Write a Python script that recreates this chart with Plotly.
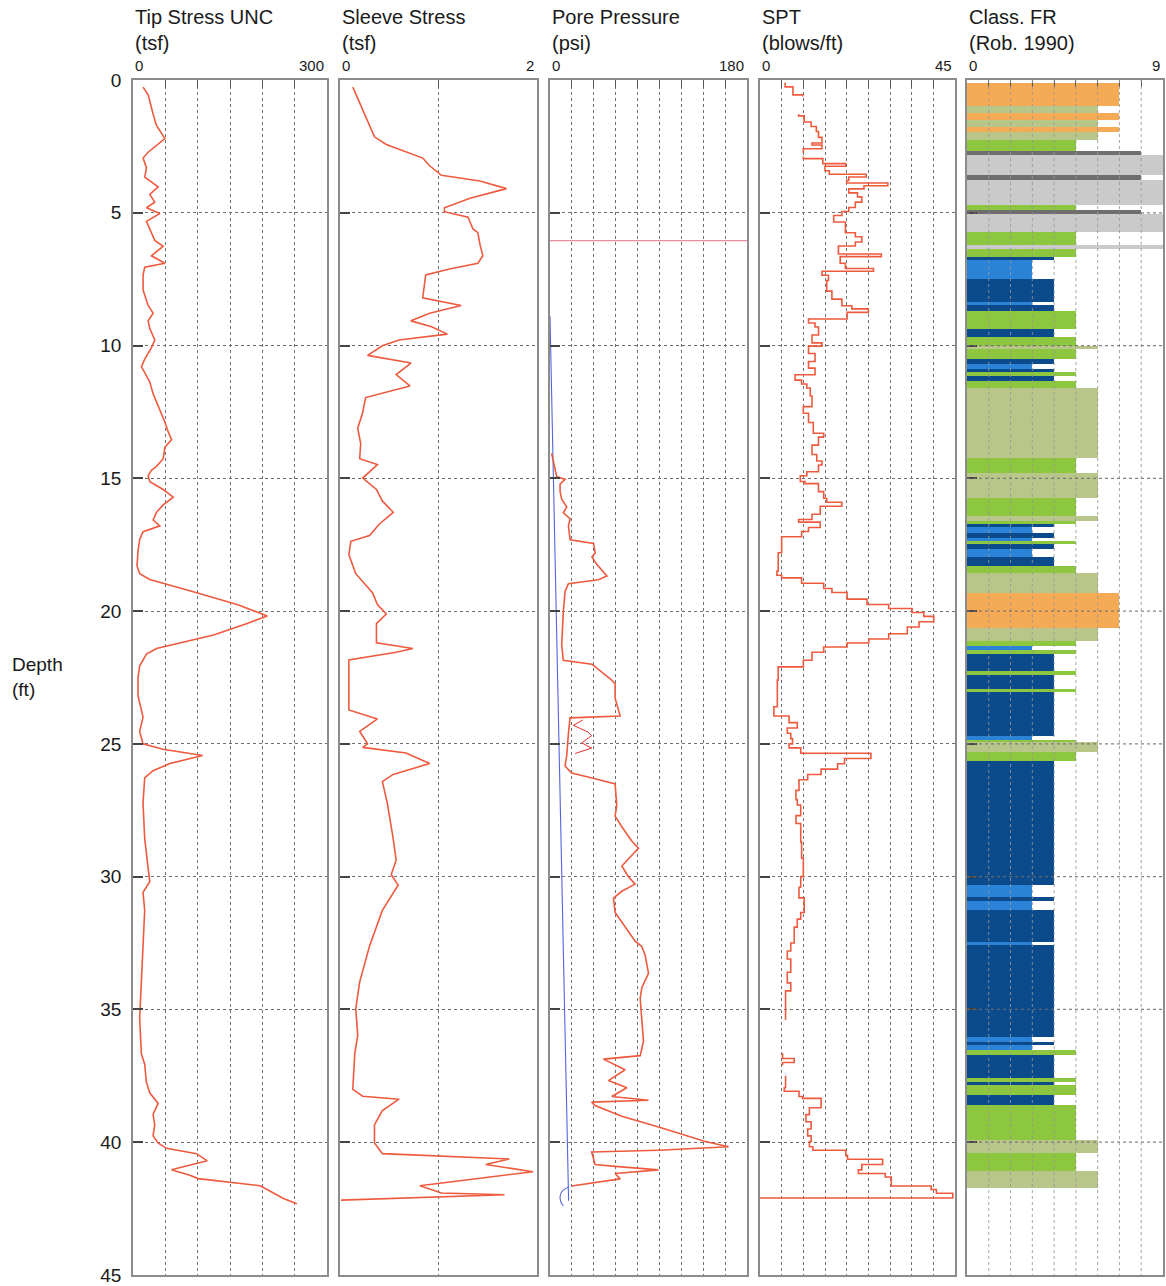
import plotly.graph_objects as go

# ---------------- data ----------------
# Tip stress (tsf) vs depth (ft)
tip_depth = [0.27,0.56,1.28,1.71,2.21,2.72,2.94,3.30,3.66,4.02,4.31,4.60,4.81,5.03,5.32,5.61,6.04,6.26,6.62,6.90,
             7.05,7.34,7.91,8.49,8.78,9.07,9.36,9.79,10.08,10.51,10.80,11.02,11.38,11.81,12.10,12.53,12.89,13.25,13.54,13.83,
             14.26,14.55,14.70,14.91,15.13,15.42,15.71,16.00,16.28,16.57,16.79,17.01,17.29,17.73,18.30,18.59,18.81,19.31,19.75,20.18,
             20.47,20.90,21.19,21.41,21.62,22.06,22.49,23.18,23.99,24.53,25.00,25.20,25.44,25.74,26.01,26.28,27.22,28.57,29.65,30.19,
             30.59,31.27,32.61,33.96,35.31,36.66,37.06,37.74,38.14,38.54,38.95,39.35,39.76,40.03,40.23,40.43,40.70,41.04,41.24,41.37,
             41.51,41.64,41.91,42.12,42.32]
tip_value = [15.6,23.4,31.1,36.3,49.3,23.4,15.6,20.8,18.2,38.9,26.0,33.7,20.8,41.5,20.8,26.0,33.7,46.7,28.5,49.3,
             18.2,15.6,15.6,23.4,31.1,23.4,26.0,33.7,28.5,18.2,13.0,18.2,26.0,31.1,36.3,44.1,49.3,54.5,59.7,49.3,
             46.7,36.3,28.5,23.4,26.0,46.7,62.3,46.7,36.3,31.1,41.5,15.6,10.4,7.8,6.2,10.4,26.0,98.6,160.9,207.6,
             176.5,124.6,72.7,36.3,20.8,10.4,7.8,7.8,15.5,10.3,15.5,46.5,107.6,56.9,31.0,18.1,15.5,18.1,23.3,25.9,
             15.5,18.1,15.5,12.9,10.3,12.9,18.1,20.7,25.9,38.8,31.0,33.6,31.0,38.8,51.7,98.3,114.8,59.5,87.9,100.9,
             150.0,196.5,217.2,232.7,253.4]

# Sleeve stress (tsf)
sleeve_depth = [0.27,0.70,1.57,2.14,2.43,2.72,2.94,3.23,3.59,3.80,4.09,4.45,4.81,4.96,5.17,5.61,5.75,6.18,6.62,6.90,
                7.12,7.34,8.20,8.49,8.78,9.07,9.29,9.57,9.79,10.01,10.37,10.66,11.09,11.52,11.96,12.53,13.11,13.69,14.26,14.48,
                14.99,15.42,15.85,16.28,16.72,17.15,17.37,17.87,18.59,19.31,19.75,20.11,20.47,21.19,21.41,21.55,21.84,23.72,24.06,24.53,
                25.00,25.13,25.34,25.74,26.15,26.42,27.22,28.57,29.38,29.92,30.32,31.27,32.61,33.96,34.97,35.98,36.66,38.01,38.27,38.38,
                38.81,39.35,40.03,40.43,40.63,40.84,41.11,41.64,41.91,41.98,42.18]
sleeve_value = [0.13,0.18,0.28,0.35,0.47,0.67,0.84,0.91,1.03,1.42,1.69,1.32,1.06,1.06,1.30,1.35,1.40,1.42,1.45,1.40,
                1.11,0.87,0.84,1.23,0.91,0.72,0.93,1.09,0.60,0.43,0.28,0.72,0.57,0.71,0.26,0.23,0.18,0.21,0.20,0.38,
                0.23,0.37,0.43,0.54,0.40,0.30,0.11,0.09,0.16,0.33,0.38,0.47,0.37,0.37,0.74,0.57,0.09,0.09,0.38,0.20,
                0.28,0.23,0.67,0.91,0.54,0.43,0.48,0.54,0.57,0.52,0.59,0.43,0.30,0.20,0.16,0.18,0.15,0.13,0.23,0.60,
                0.43,0.35,0.35,0.43,1.72,1.48,1.96,0.81,1.03,1.67,0.01]

# Pore pressure (psi)
pore_depth = [14.06,14.93,15.04,15.22,15.50,15.79,16.08,16.30,16.52,16.80,17.31,17.45,17.81,17.96,18.25,18.68,18.82,18.97,19.26,20.00,
              21.28,21.85,22.00,22.43,22.60,22.74,23.28,23.95,24.02,24.62,25.43,25.83,26.10,26.31,26.51,27.31,27.72,28.12,28.66,28.93,
              29.27,29.60,30.00,30.28,30.55,30.81,31.35,31.89,32.43,32.63,32.97,33.64,34.18,34.58,35.39,36.20,36.74,36.87,37.27,37.68,
              37.95,38.28,38.42,38.49,38.62,39.02,39.43,39.70,39.97,40.17,40.30,40.37,40.64,40.84,40.91,41.04,41.18,41.38,41.65]
pore_value = [1.5,6.1,13.8,9.2,9.2,10.7,15.3,12.2,18.4,16.8,18.4,39.8,41.3,38.3,42.9,52.0,44.4,16.8,13.8,12.2,
              10.7,12.2,38.3,52.0,56.4,59.5,59.5,64.1,18.3,16.8,15.3,13.7,19.8,41.2,59.5,61.0,59.5,65.6,74.7,80.8,
              73.2,65.6,71.7,77.8,65.6,58.0,59.5,68.6,77.8,83.9,87.0,90.0,83.9,82.4,83.9,85.4,82.4,48.8,68.6,53.4,
              70.2,56.4,90.0,38.1,41.2,65.6,99.2,120.5,141.9,163.2,99.2,38.1,39.7,41.2,59.5,99.2,59.5,64.1,19.8]
pore_thin_depth = [24.10,24.30,24.56,24.69,24.96,25.16,25.36]
pore_thin_value = [30.0,21.4,35.0,38.0,29.0,38.0,23.0]
hydro_depth = [8.9,42.2]
hydro_value = [0.0,17.0]
hydro_curl_depth = [41.70,41.85,42.05,42.25,42.40]
hydro_curl_value = [16.8,11.0,9.2,10.0,12.2]
pore_mark_depth = [6.05,6.05]
pore_mark_value = [0,180]

# SPT (blows/ft), step log: value held from this depth to the next one (None = gap)
spt_depth = [0.10,0.26,0.56,0.62,None,
             1.29,1.35,1.58,1.75,1.94,2.16,2.37,2.45,2.59,2.75,None,
             2.88,2.96,3.15,3.25,3.42,3.55,3.65,3.78,3.88,3.98,4.10,4.25,4.40,4.60,4.80,4.95,5.10,5.35,5.60,5.75,
             5.90,6.10,6.25,6.55,6.65,6.90,7.10,7.20,7.35,7.55,7.95,8.25,8.50,8.62,8.75,9.00,9.15,9.30,9.60,9.90,
             10.02,10.30,10.60,10.85,11.10,11.30,11.45,11.60,11.90,12.30,12.55,12.90,13.30,13.45,13.75,14.10,14.35,14.50,14.75,14.90,
             15.12,15.20,15.50,15.75,15.90,16.05,16.35,16.55,16.65,16.85,17.00,17.20,17.80,18.50,18.65,18.75,18.95,19.15,19.30,19.55,
             19.75,19.90,20.05,20.20,20.40,20.60,20.85,21.05,21.20,21.35,21.55,21.85,22.10,22.60,23.30,23.60,23.95,24.20,24.40,24.60,
             24.80,25.00,25.15,25.35,25.55,25.75,25.95,26.15,26.35,26.75,27.10,27.30,27.70,28.00,28.70,29.30,30.00,30.40,30.80,31.35,
             31.60,31.90,32.50,32.80,33.10,33.60,34.00,34.30,35.40,None,
             36.65,36.85,37.00,37.10,None,
             37.50,37.95,38.08,38.28,38.35,38.70,38.96,39.23,39.50,39.76,39.97,40.17,40.30,40.50,40.64,40.84,41.04,41.18,41.31,41.65,
             41.78,41.92,42.10]
spt_value = [5.8,7.6,9.9,9.9,None,
             8.9,10.2,11.8,13.0,13.5,14.3,12.0,14.3,10.0,10.0,None,
             10.0,14.5,19.8,15.0,16.0,24.5,20.5,20.0,29.5,24.0,20.5,22.5,23.5,22.0,20.5,18.9,17.0,19.7,19.7,22.0,
             23.5,22.0,18.1,28.0,18.5,19.7,26.2,14.3,15.8,15.4,16.6,18.9,21.2,25.0,20.1,11.2,12.7,13.5,12.0,14.3,
             11.2,12.7,11.2,12.7,8.1,9.6,10.8,11.6,12.0,10.0,11.2,12.3,14.7,13.5,12.0,13.1,14.3,13.5,10.8,9.3,
             10.4,13.5,14.7,15.4,18.9,13.9,12.0,8.9,13.9,11.2,9.6,5.0,4.2,3.9,5.0,9.6,14.7,16.6,20.1,24.7,
             29.7,35.1,37.8,40.1,36.7,34.0,29.7,25.1,20.1,14.7,12.0,10.0,4.2,4.0,4.0,3.2,6.7,8.6,6.3,7.1,
             7.5,6.7,9.4,25.6,19.5,17.9,14.1,11.0,9.0,8.3,8.6,9.4,8.3,9.4,9.6,10.0,9.4,9.0,10.2,9.4,
             8.6,7.9,7.1,6.3,7.1,6.3,7.1,5.9,5.9,None,
             5.2,7.9,5.2,5.2,None,
             5.9,5.6,9.0,9.8,14.1,11.4,10.6,11.8,11.0,11.8,11.4,12.2,19.8,20.2,28.3,23.5,22.7,28.9,30.3,39.5,
             40.7,44.5,0.0]

# Soil classification (Robertson 1990 zone number) by layer
cls_top = [0.13,0.98,1.26,1.49,1.76,1.95,2.27,2.67,2.83,3.59,3.77,4.72,4.91,5.03,5.72,6.23,6.35,6.67,6.79,7.49,
           8.37,8.49,8.68,9.37,9.69,10.00,10.13,10.50,10.69,10.88,11.01,11.13,11.32,11.59,14.22,14.79,15.73,16.42,16.60,16.73,
           16.83,17.06,17.23,17.35,17.48,17.67,17.98,18.30,18.55,19.30,20.62,21.12,21.30,21.45,21.62,22.24,22.41,22.93,23.06,24.69,
           24.87,24.94,25.31,25.63,30.33,30.77,30.90,31.27,32.46,32.56,36.03,36.22,36.35,36.53,36.72,37.60,37.73,37.85,38.23,38.60,
           39.91,40.41,41.10]
cls_bottom = cls_top[1:] + [41.73]
cls_zone = [7,6,7,6,7,6,5,8,9,8,9,5,8,9,5,9,5,4,3,4,
            3,4,5,4,5,6,5,4,3,4,5,4,5,6,5,6,5,6,5,4,
            3,4,3,5,4,3,4,5,6,7,6,5,3,5,4,5,4,5,4,3,
            5,6,5,4,3,4,3,4,3,4,3,4,3,5,4,5,4,5,4,5,
            6,5,6]
zone_colors = {3: "#2a83d6", 4: "#0b4a8b", 5: "#8dc63f", 6: "#b8c689", 7: "#f5aa55", 8: "#6e6e6e", 9: "#cacaca"}

panel_titles = ["Tip Stress UNC<br>(tsf)", "Sleeve Stress<br>(tsf)", "Pore Pressure<br>(psi)",
                "SPT<br>(blows/ft)", "Class. FR<br>(Rob. 1990)"]
panel_max = [300, 2, 180, 45, 9]
panel_grid = [[50, 100, 150, 200, 250], [1], [20, 40, 60, 80, 100, 120, 140, 160],
              [5, 10, 15, 20, 25, 30, 35, 40], [1, 2, 3, 4, 5, 6, 7, 8]]
depth_ticks = [0, 5, 10, 15, 20, 25, 30, 35, 40, 45]

# ---------------- layout geometry ----------------
W, H = 1166, 1286
px_left = [133, 340, 550, 760, 967]
px_right = [327, 537, 747, 955, 1163]
top_px, bot_px = 80, 1275
ydom = [1 - bot_px / H, 1 - top_px / H]

RED = "#ee5a3e"
GRIDC = "#6f6f6f"
FONT = "Liberation Sans, Arial, sans-serif"
TXT = "#1a1a1a"

fig = go.Figure()

def ax(i):
    return ("x" if i == 0 else f"x{i+1}"), ("y" if i == 0 else f"y{i+1}")

# traces
xa, ya = ax(0)
fig.add_trace(go.Scatter(x=tip_value, y=tip_depth, mode="lines", line=dict(color=RED, width=1.6), xaxis=xa, yaxis=ya))
xa, ya = ax(1)
fig.add_trace(go.Scatter(x=sleeve_value, y=sleeve_depth, mode="lines", line=dict(color=RED, width=1.6), xaxis=xa, yaxis=ya))
xa, ya = ax(2)
fig.add_trace(go.Scatter(x=pore_mark_value, y=pore_mark_depth, mode="lines", line=dict(color="#f08aa0", width=1.3), xaxis=xa, yaxis=ya))
fig.add_trace(go.Scatter(x=hydro_value, y=hydro_depth, mode="lines", line=dict(color="#5566dd", width=1.1), xaxis=xa, yaxis=ya))
fig.add_trace(go.Scatter(x=hydro_curl_value, y=hydro_curl_depth, mode="lines", line=dict(color="#5566dd", width=1.1, shape="spline"), xaxis=xa, yaxis=ya))
fig.add_trace(go.Scatter(x=pore_thin_value, y=pore_thin_depth, mode="lines", line=dict(color="#e8302a", width=1), xaxis=xa, yaxis=ya))
fig.add_trace(go.Scatter(x=pore_value, y=pore_depth, mode="lines", line=dict(color=RED, width=1.6), xaxis=xa, yaxis=ya))
xa, ya = ax(3)
fig.add_trace(go.Scatter(x=spt_value, y=spt_depth, mode="lines", connectgaps=False,
                         line=dict(color=RED, width=1.6, shape="vh"), xaxis=xa, yaxis=ya))
xa, ya = ax(4)
mids = [(t + b) / 2 for t, b in zip(cls_top, cls_bottom)]
thick = [b - t for t, b in zip(cls_top, cls_bottom)]
fig.add_trace(go.Bar(x=cls_zone, y=mids, width=thick, base=0, orientation="h",
                     marker=dict(color=[zone_colors[z] for z in cls_zone], line=dict(width=0)),
                     xaxis=xa, yaxis=ya))

layout = dict(width=W, height=H, margin=dict(l=0, r=0, t=0, b=0, pad=0, autoexpand=False), showlegend=False,
              plot_bgcolor="white", paper_bgcolor="white", hovermode=False, bargap=0,
              font=dict(family=FONT, color=TXT))
annotations = []
shapes = []
for i in range(5):
    xdom = [px_left[i] / W, px_right[i] / W]
    xname = "xaxis" if i == 0 else f"xaxis{i+1}"
    yname = "yaxis" if i == 0 else f"yaxis{i+1}"
    xa, ya = ax(i)
    layout[xname] = dict(domain=xdom, range=[0, panel_max[i]], anchor=ya, side="top",
                         showline=True, mirror=True, linecolor="#8c8c8c", linewidth=1.5,
                         tickmode="array", tickvals=panel_grid[i], ticks="inside", ticklen=7,
                         tickcolor="#555555", tickwidth=1.2, showticklabels=False, automargin=False,
                         showgrid=(i != 4), gridcolor=GRIDC, griddash="dot", gridwidth=1,
                         zeroline=False, fixedrange=True)
    layout[yname] = dict(domain=ydom, range=[45, 0], anchor=xa,
                         showline=True, mirror=True, linecolor="#8c8c8c", linewidth=1.5,
                         tickmode="array", tickvals=depth_ticks, ticks="inside", ticklen=10,
                         tickcolor="#444444", tickwidth=1.5, automargin=False,
                         showticklabels=(i == 0), tickfont=dict(size=19, color=TXT),
                         ticklabelstandoff=6,
                         showgrid=(i != 4), gridcolor=GRIDC, griddash="dot", gridwidth=1.2,
                         zeroline=False, fixedrange=True)
    # titles
    annotations.append(dict(text=panel_titles[i], xref="paper", yref="paper",
                            x=px_left[i] / W, y=1 - 29.5 / H, xanchor="left", yanchor="middle",
                            align="left", showarrow=False, font=dict(size=20, color=TXT)))
    # range labels
    annotations.append(dict(text="0", xref="paper", yref="paper", x=px_left[i] / W, y=1 - 66 / H,
                            xanchor="left", yanchor="middle", showarrow=False, font=dict(size=15, color=TXT)))
    annotations.append(dict(text=str(panel_max[i]), xref="paper", yref="paper", x=(px_right[i] - 1) / W, y=1 - 66 / H,
                            xanchor="right", yanchor="middle", showarrow=False, font=dict(size=15, color=TXT)))

# grid for the class panel, drawn above the bars
for g in panel_grid[4]:
    shapes.append(dict(type="line", xref="x5", yref="y5", x0=g, x1=g, y0=0, y1=45, layer="above",
                       line=dict(color="rgba(150,150,150,0.85)", width=1, dash="dot")))
for d in depth_ticks[1:-1]:
    shapes.append(dict(type="line", xref="x5", yref="y5", x0=0, x1=9, y0=d, y1=d, layer="above",
                       line=dict(color="rgba(110,110,110,0.85)", width=1.2, dash="dot")))

annotations.append(dict(text="Depth<br>(ft)", xref="paper", yref="paper", x=10 / W, y=1 - 677 / H,
                        xanchor="left", yanchor="middle", align="left", showarrow=False,
                        font=dict(size=19, color=TXT)))
layout["annotations"] = annotations
layout["shapes"] = shapes
fig.update_layout(**layout)

fig.write_html("out.html")
